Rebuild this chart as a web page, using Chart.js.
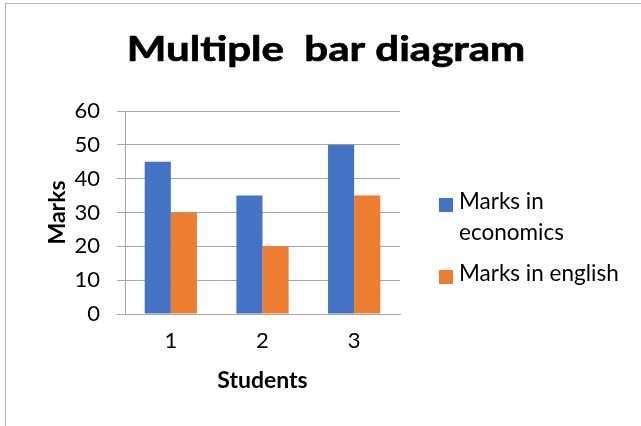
<!DOCTYPE html>
<html>
<head>
<meta charset="utf-8">
<script src="https://cdn.jsdelivr.net/npm/chart.js@4.4.1/dist/chart.umd.min.js"></script>
<style>
  html, body { margin: 0; padding: 0; background: #fff; }
  #wrap { position: relative; width: 641px; height: 426px; overflow: hidden; }
  #frame { position: absolute; left: 5px; top: 3px; width: 700px; height: 500px;
           border: 1.5px solid #b4b4b4; box-sizing: border-box; pointer-events: none; }
  canvas { position: absolute; left: 0; top: 0; }
</style>
</head>
<body>
<div id="wrap">
  <canvas id="chart" width="641" height="426"></canvas>
  <div id="frame"></div>
</div>
<script>
// Students and their marks
const students = ['1', '2', '3'];
const economicsMarks = [45, 35, 50];
const englishMarks = [30, 20, 35];
const seriesNames = ['Marks in economics', 'Marks in english'];
const seriesColors = ['#4472C4', '#ED7D31'];
const chartTitle = 'Multiple  bar diagram';

const FONT = 'Lato, "Open Sans", sans-serif';
Chart.defaults.font.family = FONT;
Chart.defaults.color = '#000';

// Wide bold heading drawn across the top band
const wideTitle = {
  id: 'wideTitle',
  afterDraw(chart, args, opts) {
    const ctx = chart.ctx;
    ctx.save();
    ctx.font = 'bold ' + opts.size + 'px ' + FONT;
    ctx.fillStyle = '#000';
    ctx.strokeStyle = '#000';
    ctx.lineWidth = opts.weightStroke;
    ctx.lineJoin = 'round';
    ctx.textAlign = 'center';
    ctx.textBaseline = 'middle';
    ctx.translate(opts.cx, opts.cy);
    ctx.scale(opts.stretch, 1);
    ctx.fillText(opts.text, 0, 0);
    ctx.strokeText(opts.text, 0, 0);
    ctx.restore();
  }
};

// Legend to the right of the plot, with word wrapping for long names
const sideLegend = {
  id: 'sideLegend',
  afterDraw(chart, args, opts) {
    const ctx = chart.ctx;
    const x0 = opts.left;
    let y = opts.top;
    ctx.save();
    ctx.font = opts.fontSize + 'px ' + FONT;
    ctx.textBaseline = 'middle';
    ctx.textAlign = 'left';
    chart.data.datasets.forEach((ds) => {
      const words = ds.label.split(' ');
      const lines = [];
      let cur = '';
      words.forEach(w => {
        const test = cur ? cur + ' ' + w : w;
        if (ctx.measureText(test).width > opts.maxTextWidth && cur) {
          lines.push(cur); cur = w;
        } else cur = test;
      });
      lines.push(cur);
      ctx.fillStyle = ds.backgroundColor;
      ctx.fillRect(x0, y - opts.box / 2 + opts.boxShift, opts.box, opts.box);
      ctx.fillStyle = '#000';
      lines.forEach((ln, k) => {
        ctx.fillText(ln, x0 + opts.box + opts.gap, y + k * opts.lineHeight);
      });
      y += lines.length * opts.lineHeight + opts.itemGap;
    });
    ctx.restore();
  }
};

new Chart(document.getElementById('chart'), {
  type: 'bar',
  data: {
    labels: students,
    datasets: [
      { label: seriesNames[0], data: economicsMarks, backgroundColor: seriesColors[0] },
      { label: seriesNames[1], data: englishMarks, backgroundColor: seriesColors[1] }
    ]
  },
  plugins: [wideTitle, sideLegend],
  options: {
    responsive: false,
    animation: false,
    layout: { padding: { left: 12, right: 0, top: 0, bottom: 32 } },
    datasets: { bar: { categoryPercentage: 0.57, barPercentage: 1.0 } },
    plugins: {
      legend: { display: false },
      title: { display: false },
      tooltip: { enabled: false },
      wideTitle: { text: chartTitle, size: 35, stretch: 1.2, weightStroke: 0.7, cx: 326, cy: 50 },
      sideLegend: {
        left: 439, top: 202, fontSize: 22.5, box: 14, boxShift: 3, gap: 6,
        lineHeight: 31, itemGap: 10, maxTextWidth: 165
      }
    },
    scales: {
      x: {
        grid: { display: false, drawTicks: false },
        border: { display: true, color: '#a6a6a6', width: 1 },
        ticks: { font: { size: 22 }, padding: 14, color: '#000' },
        title: { display: true, text: 'Students', font: { size: 23, weight: 'bold' }, color: '#000',
                 padding: { top: 0, bottom: 0 } },
        afterFit: s => { s.height = 80; }
      },
      // empty top band that holds the heading
      xTop: {
        type: 'category',
        position: 'top',
        display: true,
        grid: { display: false, drawTicks: false },
        border: { display: false },
        ticks: { display: false },
        afterFit: s => { s.height = 111; }
      },
      y: {
        min: 0, max: 60,
        ticks: { stepSize: 10, font: { size: 22 }, padding: 17, color: '#000' },
        grid: { color: '#a6a6a6', tickLength: 8 },
        border: { display: true, color: '#a6a6a6', width: 1 },
        title: { display: true, text: 'Marks', font: { size: 23, weight: 'bold' }, color: '#000',
                 padding: { top: 32, bottom: 0 } },
        afterFit: s => { s.width = 113; }
      },
      // empty right-hand band that holds the legend
      yRight: {
        position: 'right',
        display: true,
        grid: { display: false },
        border: { display: false },
        ticks: { display: false },
        afterFit: s => { s.width = 241; }
      }
    }
  }
});
</script>
</body>
</html>
